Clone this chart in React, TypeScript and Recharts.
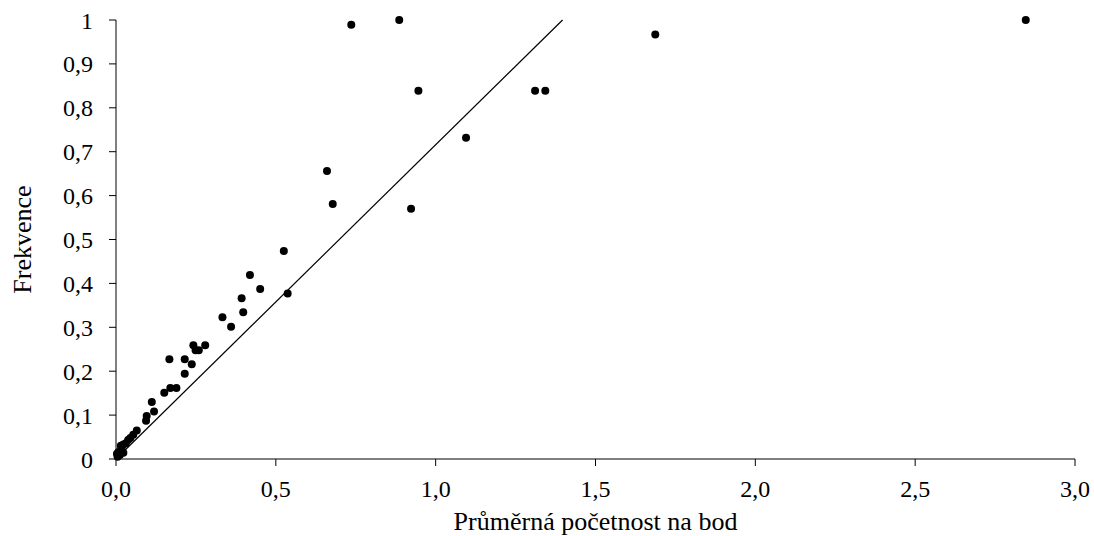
import React from 'react';
import { ScatterChart, Scatter, XAxis, YAxis } from 'recharts';

// average abundance per point (x) and frequency (y)
const abundance = [
  0.736, 0.886, 0.946, 1.311, 1.343, 1.095, 0.66, 0.678, 0.923, 0.525,
  0.419, 0.451, 0.537, 0.393, 0.398, 0.333, 0.36, 0.242, 0.279, 0.249,
  0.259, 0.167, 0.215, 0.237, 0.215, 0.17, 0.189, 0.151, 0.112, 0.119,
  0.096, 0.094, 0.065, 0.054, 0.038, 0.031, 0.045, 0.023, 0.018, 0.015,
  0.023, 0.008, 0.003, 0.012, 0.005, 1.687, 2.846,
];
const frequency = [
  0.989, 1.0, 0.839, 0.839, 0.839, 0.732, 0.656, 0.581, 0.57, 0.474,
  0.419, 0.387, 0.377, 0.366, 0.334, 0.323, 0.301, 0.259, 0.259, 0.248,
  0.248, 0.227, 0.227, 0.216, 0.194, 0.162, 0.162, 0.151, 0.13, 0.108,
  0.098, 0.087, 0.065, 0.055, 0.043, 0.036, 0.048, 0.033, 0.022, 0.03,
  0.014, 0.016, 0.012, 0.009, 0.005, 0.967, 1.0,
];

// fitted line through the origin
const trendX = [0, 1.397];
const trendY = [0, 1];

const xTicks = [0, 0.5, 1, 1.5, 2, 2.5, 3];
const yTicks = [0, 0.1, 0.2, 0.3, 0.4, 0.5, 0.6, 0.7, 0.8, 0.9, 1];

const points = abundance.map((x, i) => ({ x, y: frequency[i] }));
const trend = trendX.map((x, i) => ({ x, y: trendY[i] }));

const serif = 'Liberation Serif';
const titleStyle = { fontFamily: serif, fontSize: 26, fill: '#000' };

const XTick = (p: any) => (
  <text x={p.x} y={p.y} dy="0.71em" textAnchor="middle" style={{ fontFamily: serif, fontSize: 24 }} fill="#000">
    {Number(p.payload.value).toFixed(1).replace('.', ',')}
  </text>
);

const YTick = (p: any) => (
  <text x={p.x} y={p.y} dy="0.355em" textAnchor="end" style={{ fontFamily: serif, fontSize: 24 }} fill="#000">
    {String(p.payload.value).replace('.', ',')}
  </text>
);

const Dot = (props: any) => <circle cx={props.cx} cy={props.cy} r={4} fill="#000" />;

export default function App() {
  return (
    <div style={{ position: 'absolute', left: 0, top: 0, background: '#fff' }}>
      <ScatterChart width={1094} height={536} margin={{ top: 20, right: 19, bottom: 0, left: 0 }}>
        <XAxis
          type="number"
          dataKey="x"
          domain={[0, 3]}
          ticks={xTicks}
          height={77}
          stroke="#000"
          tickSize={7}
          tickMargin={14}
          tick={XTick}
          label={{ value: 'Průměrná početnost na bod', position: 'insideBottom', offset: 6, style: titleStyle }}
        />
        <YAxis
          type="number"
          dataKey="y"
          domain={[0, 1]}
          ticks={yTicks}
          width={116}
          stroke="#000"
          tickSize={7}
          tickMargin={16}
          tick={YTick}
          label={{ value: 'Frekvence', angle: -90, position: 'insideLeft', offset: 22, style: { ...titleStyle, textAnchor: 'middle' } }}
        />
        <Scatter data={trend} line={{ stroke: '#000', strokeWidth: 1.2 }} shape={() => <g />} isAnimationActive={false} />
        <Scatter data={points} shape={Dot} isAnimationActive={false} />
      </ScatterChart>
    </div>
  );
}
